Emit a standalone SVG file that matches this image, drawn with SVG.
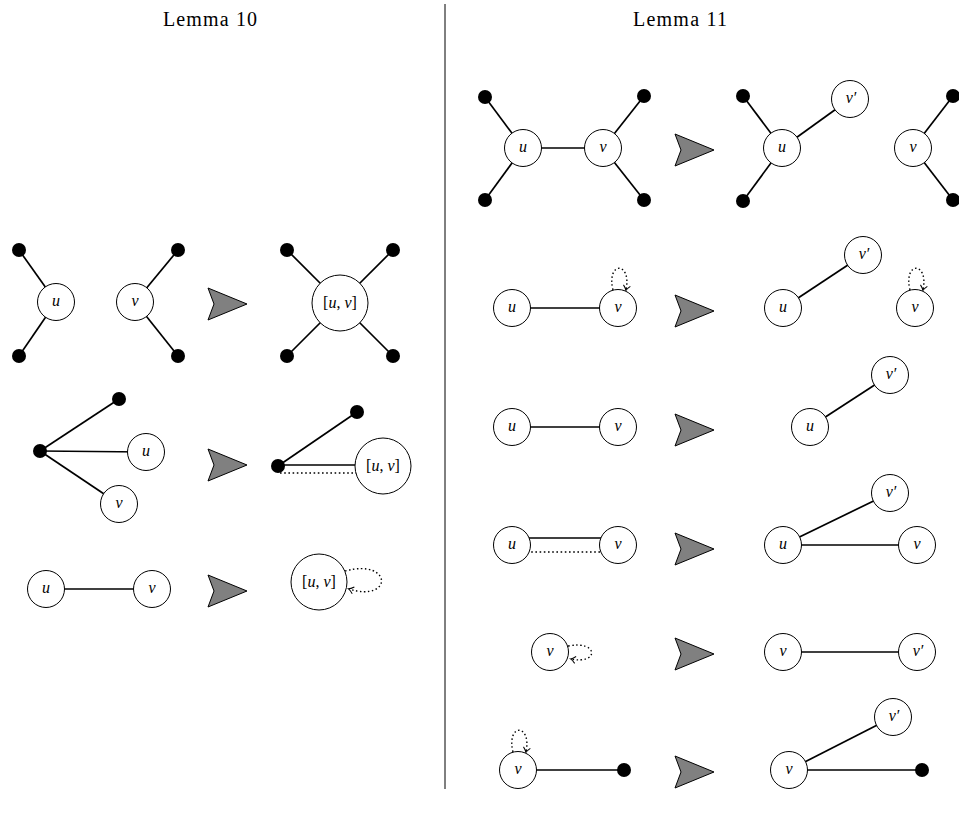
<svg xmlns="http://www.w3.org/2000/svg" width="959" height="814" viewBox="0 0 959 814">
<style>
.bg{fill:#fff}
.title{font-family:"Liberation Serif",serif;font-size:20px;text-anchor:middle;fill:#000}
.n{fill:#fff;stroke:#000;stroke-width:1}
.d{fill:#000}
.e{stroke:#000;stroke-width:1.7;fill:none}
.dot{stroke:#000;stroke-width:1.7;fill:none;stroke-dasharray:1.6 2.6}
.loop{stroke:#000;stroke-width:1.4;fill:none;stroke-dasharray:1.5 2.5}
.lab{font-family:"Liberation Serif",serif;font-size:16px;font-style:italic;text-anchor:middle;fill:#000}
.up{font-style:normal}
.arr{fill:#808080;stroke:#000;stroke-width:1;stroke-linejoin:miter}
.div{stroke:#000;stroke-width:1}
</style>
<defs>
<marker id="to" viewBox="-6 -5 8 10" refX="0" refY="0" markerWidth="8" markerHeight="10" markerUnits="userSpaceOnUse" orient="auto">
<path d="M -4.5,-3.5 Q -1.5,-0.6 0.5,0 Q -1.5,0.6 -4.5,3.5" fill="none" stroke="#000" stroke-width="1"/>
</marker>
<polygon id="bigarrow" points="0,-16 39,0 0,16 6,0"/>
</defs>
<rect class="bg" x="0" y="0" width="959" height="814"/>

<g id="titles">
<text class="title" x="210" y="26" textLength="94" lengthAdjust="spacing">Lemma 10</text>
<text class="title" x="680" y="26" textLength="94" lengthAdjust="spacing">Lemma 11</text>
</g>
<line id="divider" class="div" x1="445" y1="4" x2="445" y2="789"/>

<g id="connectors">
<!-- Lemma 10 row 1 -->
<line class="e" x1="56" y1="302" x2="19" y2="250"/>
<line class="e" x1="56" y1="302" x2="19" y2="356"/>
<line class="e" x1="135" y1="302" x2="178" y2="250"/>
<line class="e" x1="135" y1="302" x2="178" y2="356"/>
<line class="e" x1="340" y1="303" x2="287" y2="250"/>
<line class="e" x1="340" y1="303" x2="393" y2="250"/>
<line class="e" x1="340" y1="303" x2="287" y2="356"/>
<line class="e" x1="340" y1="303" x2="393" y2="356"/>
<!-- Lemma 10 row 2 -->
<line class="e" x1="40" y1="451" x2="119" y2="399"/>
<line class="e" x1="40" y1="451" x2="146" y2="452"/>
<line class="e" x1="40" y1="451" x2="119" y2="504"/>
<line class="e" x1="278" y1="466" x2="357" y2="412"/>
<line class="e" x1="278" y1="465" x2="360" y2="465"/>
<line class="dot" x1="280" y1="473" x2="360" y2="473"/>
<!-- Lemma 10 row 3 -->
<line class="e" x1="46" y1="589" x2="152" y2="589"/>
<path class="loop" d="M 345,571 C 393,558 393,603 349,589" marker-end="url(#to)"/>
<!-- Lemma 11 row 1 -->
<line class="e" x1="523" y1="148" x2="485" y2="97"/>
<line class="e" x1="523" y1="148" x2="485" y2="200"/>
<line class="e" x1="523" y1="148" x2="603" y2="148"/>
<line class="e" x1="603" y1="148" x2="644" y2="96"/>
<line class="e" x1="603" y1="148" x2="644" y2="200"/>
<line class="e" x1="782" y1="148" x2="743" y2="96"/>
<line class="e" x1="782" y1="148" x2="743" y2="201"/>
<line class="e" x1="782" y1="148" x2="850" y2="99"/>
<line class="e" x1="913" y1="148" x2="953" y2="96"/>
<line class="e" x1="913" y1="148" x2="953" y2="200"/>
<!-- Lemma 11 row 2 -->
<line class="e" x1="512" y1="308" x2="618" y2="308"/>
<path class="loop" d="M 613,290 C 606,261 632,261 626,290" marker-end="url(#to)"/>
<line class="e" x1="783" y1="308" x2="863" y2="255"/>
<path class="loop" d="M 910,290 C 903,261 929,261 923,290" marker-end="url(#to)"/>
<!-- Lemma 11 row 3 -->
<line class="e" x1="512" y1="427" x2="618" y2="427"/>
<line class="e" x1="810" y1="427" x2="890" y2="375"/>
<!-- Lemma 11 row 4 -->
<line class="e" x1="525" y1="538" x2="605" y2="538"/>
<line class="dot" x1="527" y1="552" x2="603" y2="552"/>
<line class="e" x1="783" y1="545" x2="890" y2="493"/>
<line class="e" x1="783" y1="545" x2="917" y2="545"/>
<!-- Lemma 11 row 5 -->
<path class="loop" d="M 568,646 C 599,640 599,665 571,659" marker-end="url(#to)"/>
<line class="e" x1="783" y1="652" x2="917" y2="652"/>
<!-- Lemma 11 row 6 -->
<line class="e" x1="518" y1="770" x2="624" y2="770"/>
<path class="loop" d="M 513,752 C 506,723 532,723 526,752" marker-end="url(#to)"/>
<line class="e" x1="789" y1="770" x2="893" y2="717"/>
<line class="e" x1="789" y1="770" x2="922" y2="770"/>
</g>

<g id="arrows">
<use href="#bigarrow" class="arr" x="208" y="304"/>
<use href="#bigarrow" class="arr" x="208" y="465"/>
<use href="#bigarrow" class="arr" x="208" y="591"/>
<use href="#bigarrow" class="arr" x="675" y="150"/>
<use href="#bigarrow" class="arr" x="675" y="311"/>
<use href="#bigarrow" class="arr" x="675" y="430"/>
<use href="#bigarrow" class="arr" x="675" y="549"/>
<use href="#bigarrow" class="arr" x="675" y="654"/>
<use href="#bigarrow" class="arr" x="675" y="772"/>
</g>

<!-- Lemma 10 row 1 nodes -->
<g id="l10r1-u"><circle class="n" cx="56" cy="302" r="18.5"/><text class="lab" x="56" y="306">u</text></g>
<g id="l10r1-v"><circle class="n" cx="135" cy="302" r="18.5"/><text class="lab" x="135" y="306">v</text></g>
<g id="l10r1-uv"><circle class="n" cx="340" cy="303" r="28"/><text class="lab" x="340" y="308"><tspan class="up">[</tspan>u<tspan class="up">, </tspan>v<tspan class="up">]</tspan></text></g>
<g id="l10r1-dots">
<circle class="d" cx="19" cy="250" r="7"/><circle class="d" cx="19" cy="356" r="7"/>
<circle class="d" cx="178" cy="250" r="7"/><circle class="d" cx="178" cy="356" r="7"/>
<circle class="d" cx="287" cy="250" r="7"/><circle class="d" cx="393" cy="250" r="7"/>
<circle class="d" cx="287" cy="356" r="7"/><circle class="d" cx="393" cy="356" r="7"/>
</g>
<!-- Lemma 10 row 2 nodes -->
<g id="l10r2-dots">
<circle class="d" cx="40" cy="451" r="7"/><circle class="d" cx="119" cy="399" r="7"/>
<circle class="d" cx="278" cy="466" r="7"/><circle class="d" cx="357" cy="412" r="7"/>
</g>
<g id="l10r2-u"><circle class="n" cx="146" cy="452" r="18.5"/><text class="lab" x="146" y="456">u</text></g>
<g id="l10r2-v"><circle class="n" cx="119" cy="504" r="18.5"/><text class="lab" x="119" y="508">v</text></g>
<g id="l10r2-uv"><circle class="n" cx="383" cy="466" r="28"/><text class="lab" x="383" y="471"><tspan class="up">[</tspan>u<tspan class="up">, </tspan>v<tspan class="up">]</tspan></text></g>
<!-- Lemma 10 row 3 nodes -->
<g id="l10r3-u"><circle class="n" cx="46" cy="589" r="18.5"/><text class="lab" x="46" y="593">u</text></g>
<g id="l10r3-v"><circle class="n" cx="152" cy="589" r="18.5"/><text class="lab" x="152" y="593">v</text></g>
<g id="l10r3-uv"><circle class="n" cx="319" cy="582" r="28"/><text class="lab" x="319" y="587"><tspan class="up">[</tspan>u<tspan class="up">, </tspan>v<tspan class="up">]</tspan></text></g>

<!-- Lemma 11 row 1 nodes -->
<g id="l11r1-dots">
<circle class="d" cx="485" cy="97" r="7"/><circle class="d" cx="485" cy="200" r="7"/>
<circle class="d" cx="644" cy="96" r="7"/><circle class="d" cx="644" cy="200" r="7"/>
<circle class="d" cx="743" cy="96" r="7"/><circle class="d" cx="743" cy="201" r="7"/>
<circle class="d" cx="953" cy="96" r="7"/><circle class="d" cx="953" cy="200" r="7"/>
</g>
<g id="l11r1-u"><circle class="n" cx="523" cy="148" r="18.5"/><text class="lab" x="523" y="152">u</text></g>
<g id="l11r1-v"><circle class="n" cx="603" cy="148" r="18.5"/><text class="lab" x="603" y="152">v</text></g>
<g id="l11r1-u2"><circle class="n" cx="782" cy="148" r="18.5"/><text class="lab" x="782" y="152">u</text></g>
<g id="l11r1-vp"><circle class="n" cx="850" cy="99" r="18.5"/><text class="lab" x="851" y="103">v′</text></g>
<g id="l11r1-v2"><circle class="n" cx="913" cy="148" r="18.5"/><text class="lab" x="913" y="152">v</text></g>
<!-- Lemma 11 row 2 nodes -->
<g id="l11r2-u"><circle class="n" cx="512" cy="308" r="18.5"/><text class="lab" x="512" y="312">u</text></g>
<g id="l11r2-v"><circle class="n" cx="618" cy="308" r="18.5"/><text class="lab" x="618" y="312">v</text></g>
<g id="l11r2-u2"><circle class="n" cx="783" cy="308" r="18.5"/><text class="lab" x="783" y="312">u</text></g>
<g id="l11r2-vp"><circle class="n" cx="863" cy="255" r="18.5"/><text class="lab" x="864" y="259">v′</text></g>
<g id="l11r2-v2"><circle class="n" cx="915" cy="308" r="18.5"/><text class="lab" x="915" y="312">v</text></g>
<!-- Lemma 11 row 3 nodes -->
<g id="l11r3-u"><circle class="n" cx="512" cy="427" r="18.5"/><text class="lab" x="512" y="431">u</text></g>
<g id="l11r3-v"><circle class="n" cx="618" cy="427" r="18.5"/><text class="lab" x="618" y="431">v</text></g>
<g id="l11r3-u2"><circle class="n" cx="810" cy="427" r="18.5"/><text class="lab" x="810" y="431">u</text></g>
<g id="l11r3-vp"><circle class="n" cx="890" cy="375" r="18.5"/><text class="lab" x="891" y="379">v′</text></g>
<!-- Lemma 11 row 4 nodes -->
<g id="l11r4-u"><circle class="n" cx="512" cy="545" r="18.5"/><text class="lab" x="512" y="549">u</text></g>
<g id="l11r4-v"><circle class="n" cx="618" cy="545" r="18.5"/><text class="lab" x="618" y="549">v</text></g>
<g id="l11r4-u2"><circle class="n" cx="783" cy="545" r="18.5"/><text class="lab" x="783" y="549">u</text></g>
<g id="l11r4-vp"><circle class="n" cx="890" cy="493" r="18.5"/><text class="lab" x="891" y="497">v′</text></g>
<g id="l11r4-v2"><circle class="n" cx="917" cy="545" r="18.5"/><text class="lab" x="917" y="549">v</text></g>
<!-- Lemma 11 row 5 nodes -->
<g id="l11r5-v"><circle class="n" cx="550" cy="652" r="18.5"/><text class="lab" x="550" y="656">v</text></g>
<g id="l11r5-v2"><circle class="n" cx="783" cy="652" r="18.5"/><text class="lab" x="783" y="656">v</text></g>
<g id="l11r5-vp"><circle class="n" cx="917" cy="652" r="18.5"/><text class="lab" x="918" y="656">v′</text></g>
<!-- Lemma 11 row 6 nodes -->
<g id="l11r6-v"><circle class="n" cx="518" cy="770" r="18.5"/><text class="lab" x="518" y="774">v</text></g>
<g id="l11r6-dot"><circle class="d" cx="624" cy="770" r="7"/><circle class="d" cx="922" cy="770" r="7"/></g>
<g id="l11r6-v2"><circle class="n" cx="789" cy="770" r="18.5"/><text class="lab" x="789" y="774">v</text></g>
<g id="l11r6-vp"><circle class="n" cx="893" cy="717" r="18.5"/><text class="lab" x="894" y="721">v′</text></g>
</svg>
